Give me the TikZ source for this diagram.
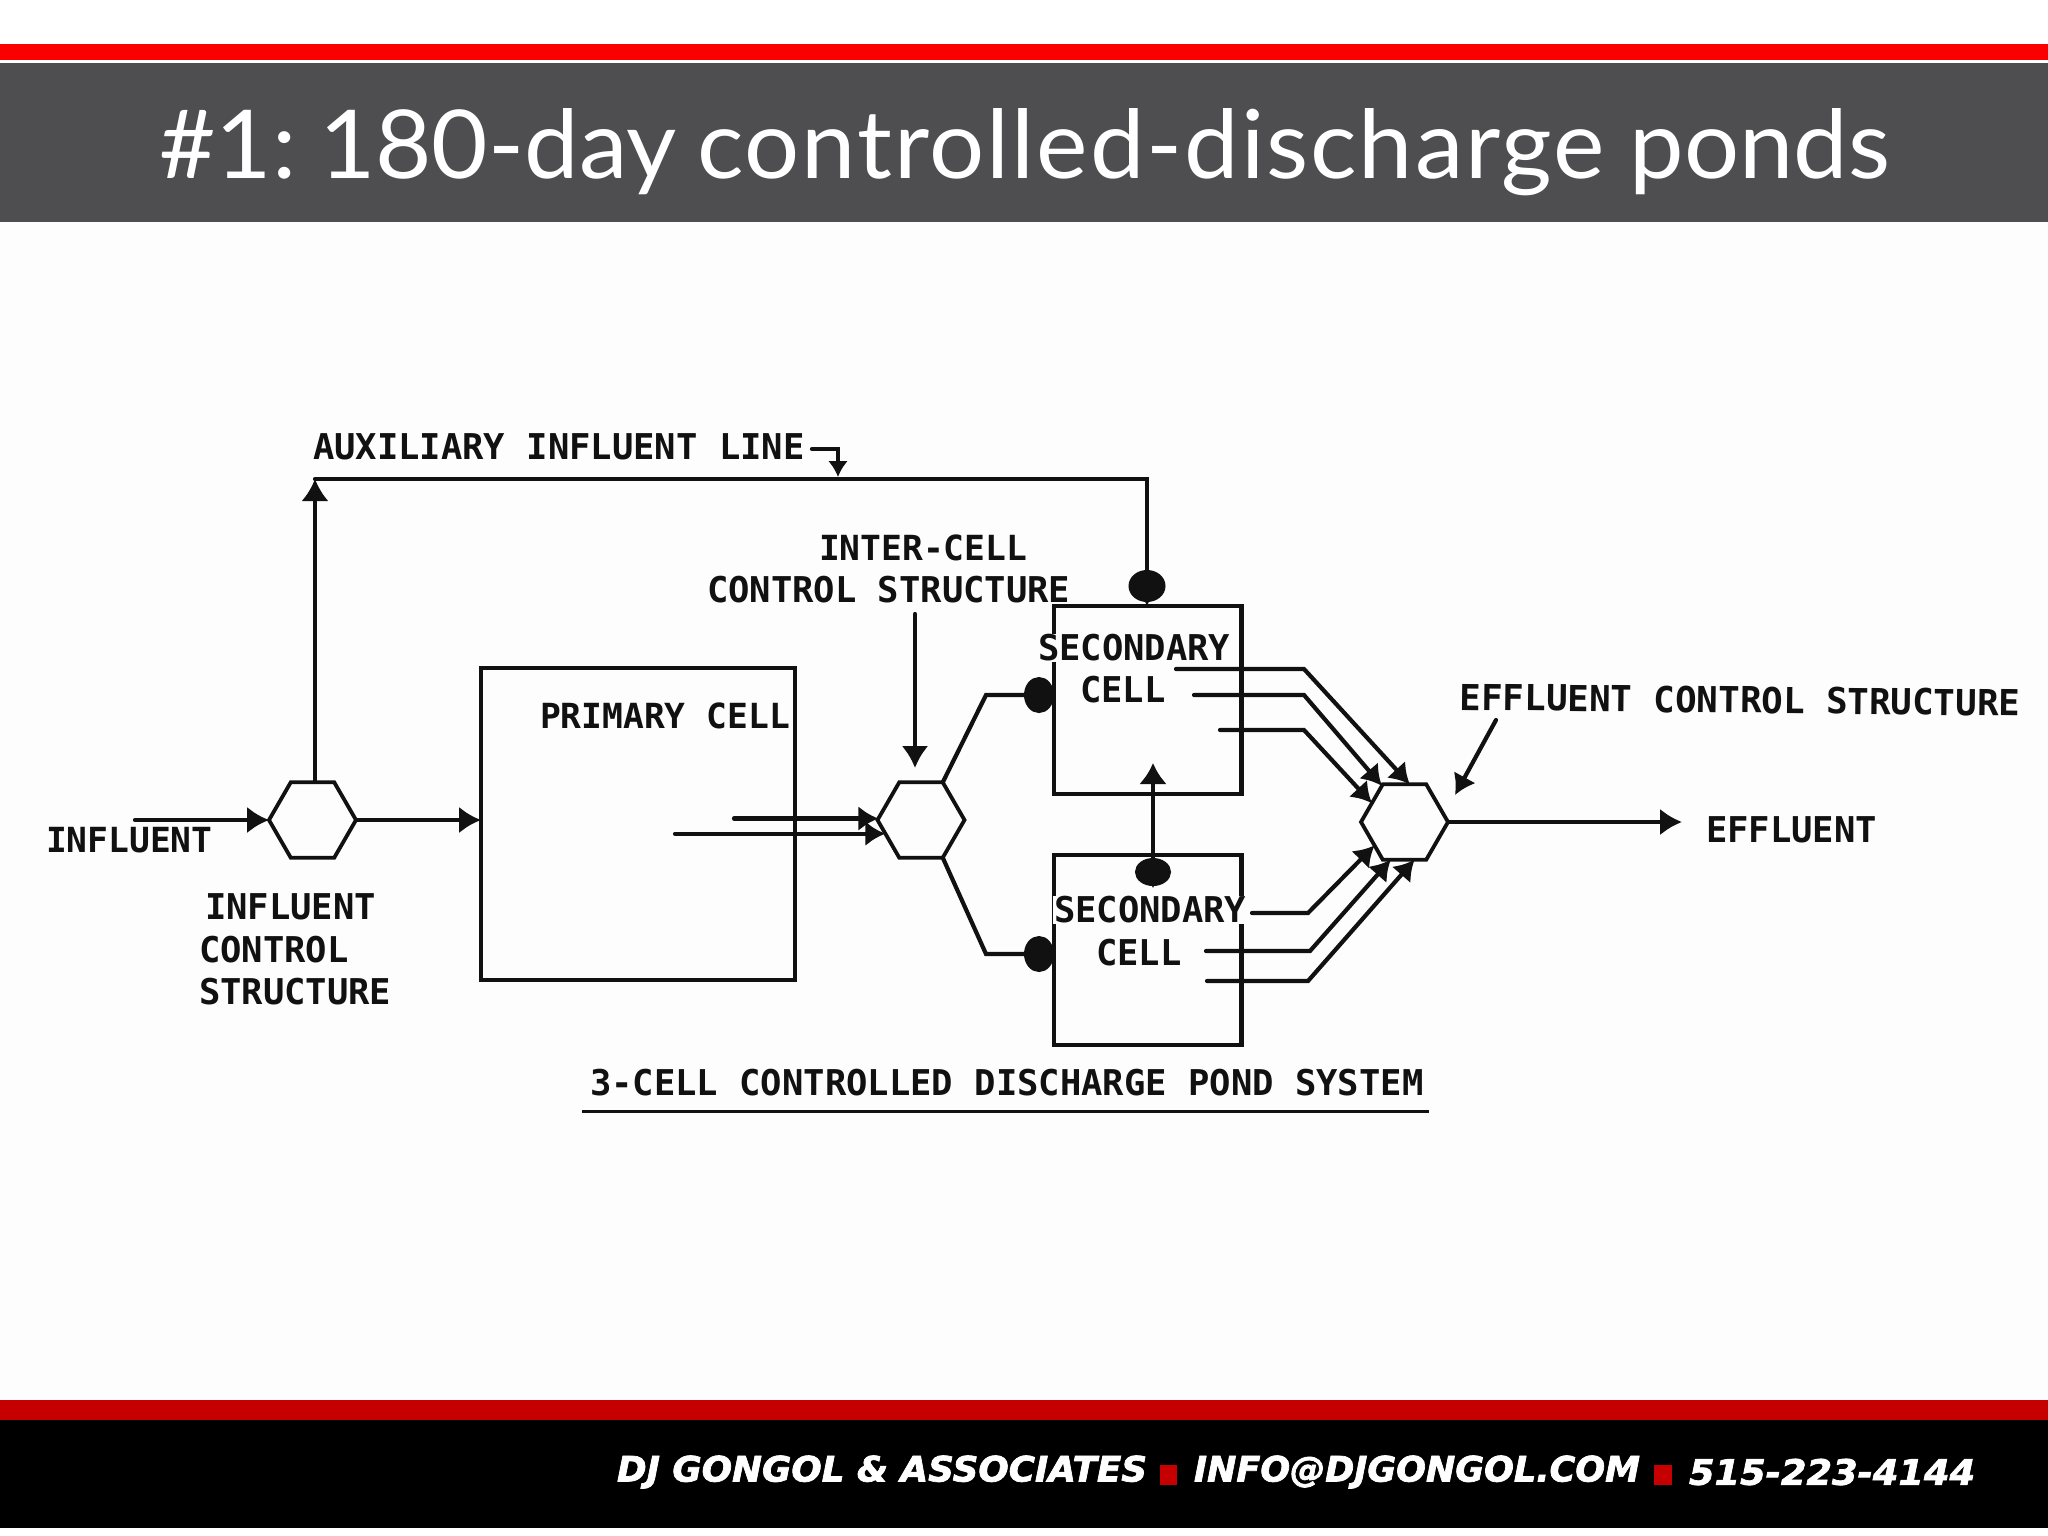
\documentclass[tikz,border=0pt]{standalone}
\usepackage{fontspec}
\usepackage{graphicx}
\usetikzlibrary{arrows.meta,shapes.geometric}
\setmainfont{Lato}
\newfontfamily\scanfont{DejaVu Sans Mono}
\newfontfamily\footfont[BoldItalicFeatures={FakeBold=2}]{DejaVu Sans}
\definecolor{pagebg}{HTML}{FEFDFE}
\definecolor{band}{HTML}{4E4D4F}
\definecolor{redtop}{HTML}{FA0000}
\definecolor{redfoot}{HTML}{C60000}
\definecolor{ink}{HTML}{111111}
\tikzset{
  hexnode/.style={draw=ink,line width=3.8pt,regular polygon,regular polygon sides=6,minimum size=87pt,inner sep=0pt,outer sep=0pt},
  cellbox/.style={draw=ink,line width=4.2pt,rectangle,inner sep=0pt,outer sep=0pt},
  scan/.style={text=ink,inner sep=0pt,outer sep=0pt,anchor=west,font=\scanfont\bfseries\fontsize{35.5}{40}\selectfont},
  scannarrow/.style={scan,font=\scanfont\bfseries\fontsize{34.6}{40}\selectfont},
  scanwide/.style={scan,font=\scanfont\bfseries\fontsize{35.8}{40}\selectfont},
  scanfill/.style={scan,fill=pagebg,inner sep=1pt},
  wire/.style={draw=ink,line width=4.2pt,line cap=round,line join=miter},
  headbig/.style={-{Latex[length=22pt,width=27pt]}},
  headsmall/.style={-{Latex[length=20pt,width=25pt]}},
  headblob/.style={-{Ellipse[length=30pt,width=36pt]}},
  headshield/.style={-{Ellipse[length=32pt,width=37pt,sep=-11pt]Latex[length=15pt,width=20pt]}},
  foottext/.style={text=white,inner sep=0pt,outer sep=0pt,anchor=west,font=\footfont\bfseries\itshape\fontsize{36}{40}\selectfont},
}
\newcommand{\fitbox}[3]{\resizebox{#1pt}{#2pt}{#3}}
\begin{document}
\begin{tikzpicture}[x=1pt,y=-1pt]
\useasboundingbox (0,0) rectangle (2048,1535);
% page bands
\fill[white] (0,0) rectangle (2048,1535);
\fill[pagebg] (0,222) rectangle (2048,1400);
\fill[redtop] (0,44) rectangle (2048,60);
\fill[band] (0,63) rectangle (2048,222);
\fill[redfoot] (0,1400) rectangle (2048,1420);
\fill[black] (0,1420) rectangle (2048,1528);
% title
\node[text=white,inner sep=0pt,anchor=west,font=\fontsize{92}{100}\selectfont] (title) at (159,152) {\fitbox{1731}{70}{\#1:\hspace{-10pt} 180-day\hspace{-4pt} {\addfontfeature{LetterSpace=2}controlled-discharge} ponds}};
% footer
\node[foottext] (foota) at (617,1472) {\fitbox{530}{26}{DJ GONGOL \& ASSOCIATES}};
\node[foottext] (footb) at (1194,1472) {\fitbox{446}{26}{INFO@DJGONGOL.COM}};
\node[foottext] (footc) at (1689,1472) {\fitbox{286}{26}{515-223-4144}};
\fill[redfoot] (1160,1465) rectangle (1177,1485);
\fill[redfoot] (1654,1465) rectangle (1672,1485);
% cells
\node[cellbox,minimum width=314pt,minimum height=312pt] (prim) at (638,824) {};
\node[cellbox,minimum width=187.5pt,minimum height=188pt] (sectop) at (1147.75,700) {};
\node[cellbox,minimum width=187.5pt,minimum height=190pt] (secbot) at (1147.75,950) {};
% control structures
\node[hexnode] (hexin) at (312.5,820) {};
\node[hexnode] (hexmid) at (921,820) {};
\node[hexnode] (hexout) at (1404.5,822) {};
% free ends and bends
\coordinate (inflstart) at (135,820);
\coordinate (auxtip) at (315,479);
\coordinate (auxbend) at (1147,479);
\coordinate (hookstart) at (812,449);
\coordinate (hookbend) at (838,449);
\coordinate (hooktip) at (838,477);
\coordinate (primouta) at (734,818);
\coordinate (primoutb) at (675,836);
\coordinate (icstart) at (915,614);
\coordinate (ictip) at (915,768);
\coordinate (branchtop) at (986,695);
\coordinate (branchbot) at (986,954);
\coordinate (linktop) at (1153,763);
\coordinate (linkbot) at (1153,888);
\coordinate (sa) at (1176,669);
\coordinate (sab) at (1304,669);
\coordinate (sb) at (1194,695);
\coordinate (sbb) at (1304,695);
\coordinate (sc) at (1220,730);
\coordinate (scb) at (1304,730);
\coordinate (ta) at (1252,913);
\coordinate (tab) at (1308,913);
\coordinate (tb) at (1206,951);
\coordinate (tbb) at (1310,951);
\coordinate (tc) at (1207,981);
\coordinate (tcb) at (1308,981);
\coordinate (efftip) at (1682,820);
\coordinate (ptrstart) at (1496,720);
\coordinate (ptrtip) at (1455,795);
% connectors
\draw[wire,headbig] (inflstart) -- (hexin.west);
\draw[wire,headbig] (hexin.east) -- (hexin.east -| prim.west);
\draw[wire,headbig,line width=3.2pt] (auxtip |- hexin.north) -- (auxtip);
\draw[wire,headshield] (auxtip) -- (auxbend) -- (auxbend |- sectop.north);
\draw[wire,-{Latex[length=16pt,width=20pt]}] (hookstart) -- (hookbend) -- (hooktip);
\draw[wire,headsmall] (primouta |- hexmid.178) -- (hexmid.178);
\draw[wire,headsmall] (primoutb |- hexmid.201) -- (hexmid.201);
\draw[wire,headbig] (icstart) -- (ictip);
\draw[wire,headblob] (hexmid.60) -- (branchtop) -- (branchtop -| sectop.west);
\draw[wire,headblob] (hexmid.300) -- (branchbot) -- (branchbot -| secbot.west);
\draw[wire,{Latex[length=21pt,width=28pt]}-{Ellipse[length=28pt,width=36pt,sep=-10pt]Latex[length=12pt,width=18pt]}] (linktop) -- (linkbot);
\draw[wire,headsmall] (sa) -- (sab) -- (hexout.82);
\draw[wire,headsmall] (sb) -- (sbb) -- (hexout.122);
\draw[wire,headsmall] (sc) -- (scb) -- (hexout.150);
\draw[wire,headsmall] (ta) -- (tab) -- (hexout.218);
\draw[wire,headsmall] (tb) -- (tbb) -- (hexout.250);
\draw[wire,headsmall] (tc) -- (tcb) -- (hexout.285);
\draw[wire,headbig] (hexout.east) -- (efftip |- hexout.east);
\draw[wire,headsmall] (ptrstart) -- (ptrtip);
% labels
\node[scan] (lblaux) at (313,447) {AUXILIARY INFLUENT LINE};
\node[scannarrow] (lblic) at (819,548) {INTER-CELL};
\node[scan] (lblcs) at (707,590) {CONTROL STRUCTURE};
\node[scanfill] (lblsa) at (1037,648) {SECONDARY};
\node[scan] (lblsb) at (1080,690) {CELL};
\node[scanfill] (lblta) at (1053,910) {SECONDARY};
\node[scan] (lbltb) at (1096,953) {CELL};
\node[scannarrow] (lblprim) at (540,716) {PRIMARY CELL};
\node[scannarrow] (lblinfl) at (46,840) {INFLUENT};
\node[scan] (lblia) at (205,907) {INFLUENT};
\node[scan] (lblib) at (199,950) {CONTROL};
\node[scan] (lblic2) at (199,992) {STRUCTURE};
\node[scanwide,rotate=-0.6] (lblecs) at (1460,697) {EFFLUENT CONTROL STRUCTURE};
\node[scan] (lbleff) at (1706,830) {EFFLUENT};
\node[scan] (lblsys) at (590,1083) {3-CELL CONTROLLED DISCHARGE POND SYSTEM};
\draw[draw=ink,line width=3pt] (582,1111) -- (1429,1111);
\end{tikzpicture}
\end{document}
